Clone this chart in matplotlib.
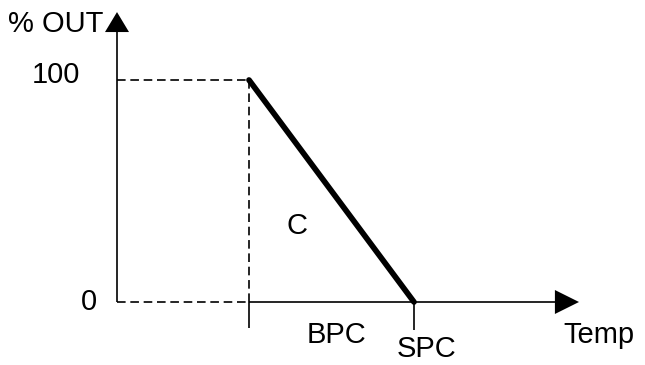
import matplotlib
matplotlib.use("Agg")
import matplotlib.pyplot as plt

# control curve: output falls from 100 % at (SPC - BPC) to 0 % at SPC
temp = [4, 9]
out = [100, 0]
y_ticks = [100, 0]
y_tick_labels = ["100", "0"]

plt.rcParams['font.family'] = ['Liberation Sans', 'DejaVu Sans']
plt.rcParams['lines.scale_dashes'] = False

fig = plt.figure(figsize=(6.45, 3.65), dpi=100)
ax = fig.add_axes([0, 0, 1, 1])
# 1 unit in x = 33 px, 1 unit in y = 2.22 px
ax.set_xlim(-117 / 33, 528 / 33)
ax.set_ylim(-63 / 2.22, 302 / 2.22)
ax.axis("off")

dash = (0, (6.2, 3.4))
lw_axis = 1.2
y_top = 121.6
x_end = 13.27

# axes
ax.plot([0, 0], [0, y_top], color="black", lw=lw_axis, solid_capstyle="butt")
ax.fill([-0.364, 0.364, 0], [y_top, y_top, 130.6], color="black", lw=0)
ax.plot([0, temp[0]], [0, 0], color="black", lw=lw_axis, linestyle=dash)
ax.plot([temp[0], x_end], [0, 0], color="black", lw=lw_axis, solid_capstyle="butt")
ax.fill([x_end, x_end, 14.0], [-5.4, 5.4, 0], color="black", lw=0)

# guide lines
ax.plot([0, temp[0]], [out[0], out[0]], color="black", lw=lw_axis, linestyle=dash)
ax.plot([temp[0], temp[0]], [0, out[0]], color="black", lw=lw_axis, linestyle=dash)
ax.plot([temp[0], temp[0]], [0, -11.7], color="black", lw=lw_axis, solid_capstyle="butt")
ax.plot([temp[1], temp[1]], [0, -12.6], color="black", lw=lw_axis, solid_capstyle="butt")

# curve
ax.plot(temp, out, color="black", lw=4.1, solid_capstyle="round")

fs = 21
ax.text(-0.42, 121.6, "% OUT", ha="right", va="baseline", fontsize=fs)
ax.text(-1.12, 98.6, y_tick_labels[0], ha="right", va="baseline", fontsize=fs)
ax.text(-0.61, -3.6, y_tick_labels[1], ha="right", va="baseline", fontsize=fs)
ax.text(5.45, 30.6, "C", ha="center", va="baseline", fontsize=fs)
ax.text(6.64, -18.5, "BPC", ha="center", va="baseline", fontsize=fs)
ax.text(9.39, -24.8, "SPC", ha="center", va="baseline", fontsize=fs)
ax.text(13.52, -18.5, "Temp", ha="left", va="baseline", fontsize=fs)

fig.savefig("out.png", dpi=100)
